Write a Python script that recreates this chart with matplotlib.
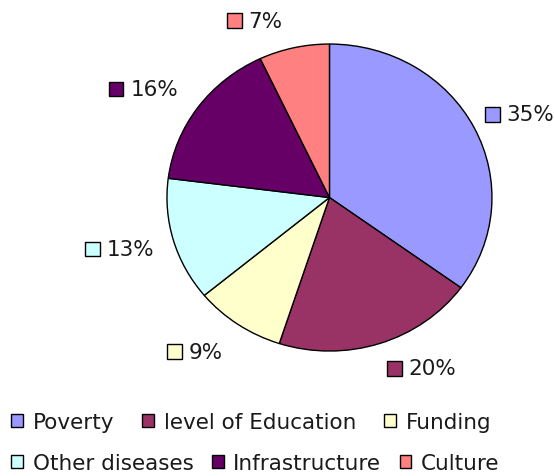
import numpy as np
import matplotlib
matplotlib.use("Agg")
import matplotlib.pyplot as plt
from matplotlib.patches import Rectangle
from matplotlib.offsetbox import (
    AnnotationBbox, DrawingArea, HPacker, TextArea
)

plt.rcParams["font.family"] = ["DejaVu Sans"]

categories = ["Poverty", "level of Education", "Funding",
              "Other diseases", "Infrastructure", "Culture"]
shares = [35, 20, 9, 13, 16, 7]
colors = ["#9999FF", "#993366", "#FFFFCC", "#CCFFFF", "#660066", "#FF8080"]

# label placement: radius factor and angle nudge (deg) per slice
label_r = [1.29, 1.25, 1.30, 1.335, 1.345, 1.24]
label_dang = [-2.2, 9.0, -5.3, -1.6, 4.3, 9.1]

fig = plt.figure(figsize=(5.54, 4.77), dpi=100)

# pie axes (old Excel pie is slightly elliptical)
ax = fig.add_axes([0.3014, 0.262, 0.5866, 0.6436])

wedges, _ = ax.pie(
    shares,
    colors=colors,
    startangle=90,
    counterclock=False,
    radius=1,
    wedgeprops=dict(edgecolor="black", linewidth=1)
)
ax.set_aspect("auto")
ax.set_xlim(-1, 1)
ax.set_ylim(-1, 1)
ax.axis("off")

# percentage labels with a small colour box
for w, val, col, r, da_ in zip(wedges, shares, colors, label_r, label_dang):
    mid = np.deg2rad((w.theta1 + w.theta2) / 2 + da_)
    lx = r * np.cos(mid)
    ly = r * np.sin(mid)

    da = DrawingArea(10.5, 10.5, 0, 0)
    da.add_artist(
        Rectangle((0, 0), 10.5, 10.5, facecolor=col,
                  edgecolor="black", linewidth=1)
    )
    ta = TextArea(f"{val}%", textprops=dict(fontsize=15.5, color="#1a1a1a"))
    pack = HPacker(children=[da, ta], sep=5, align="center", pad=0)
    ab = AnnotationBbox(pack, (lx, ly), xycoords="data",
                        frameon=False, box_alignment=(0.5, 0.5),
                        annotation_clip=False)
    ax.add_artist(ab)

# legend, two rows laid out like the original
handles = [
    Rectangle((0, 0), 1, 1, facecolor=c, edgecolor="black", linewidth=1)
    for c in colors
]

leg_kw = dict(
    ncol=3,
    frameon=False,
    fontsize=15.5,
    handlelength=0.55,
    handleheight=0.55,
    handletextpad=0.45,
    borderaxespad=0,
    borderpad=0,
    labelcolor="#1a1a1a"
)

leg1 = fig.legend(handles[:3], categories[:3], loc="center left",
                  bbox_to_anchor=(0.02, 1 - 423 / 477),
                  columnspacing=1.3, **leg_kw)
leg2 = fig.legend(handles[3:], categories[3:], loc="center left",
                  bbox_to_anchor=(0.02, 1 - 464 / 477),
                  columnspacing=0.85, **leg_kw)

fig.savefig("out.png", dpi=100)
